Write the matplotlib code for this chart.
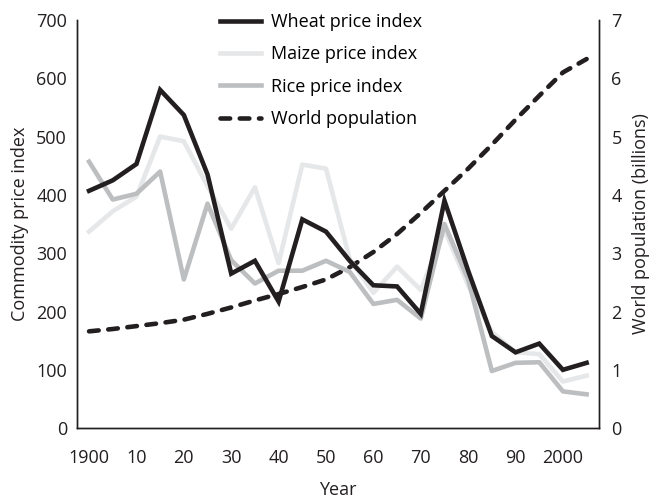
import matplotlib.pyplot as plt

plt.rcParams['font.family'] = ['Open Sans', 'DejaVu Sans']

years = list(range(1900, 2006, 5))
wheat = [407, 425, 453, 580, 537, 435, 265, 287, 217, 358, 337, 287,
         245, 243, 196, 390, 270, 158, 130, 145, 100, 112]
maize = [337, 372, 397, 500, 492, 415, 342, 413, 283, 452, 445, 290,
         232, 277, 237, 340, 245, 165, 130, 127, 80, 90]
rice = [457, 392, 402, 440, 255, 385, 288, 248, 270, 270, 287, 268,
        213, 220, 188, 350, 255, 98, 112, 113, 63, 58]
population = [1.66, 1.70, 1.75, 1.80, 1.86, 1.96, 2.07, 2.19, 2.30, 2.42,
              2.55, 2.76, 3.02, 3.33, 3.69, 4.07, 4.45, 4.86, 5.29, 5.70,
              6.10, 6.33]

x_ticks = [1900, 1910, 1920, 1930, 1940, 1950, 1960, 1970, 1980, 1990, 2000]
x_labels = ["1900", "10", "20", "30", "40", "50", "60", "70", "80", "90", "2000"]

dark = "#231f20"

fig = plt.figure(figsize=(6.56, 4.99), dpi=100)
ax = fig.add_axes([0.117, 0.142, 0.796, 0.818])
ax2 = ax.twinx()

# price indices on the left axis, population on the right
l_wheat, = ax.plot(years, wheat, color=dark, lw=3.3, zorder=4,
                   solid_joinstyle="miter")
l_maize, = ax.plot(years, maize, color="#e6e7e8", lw=3.3, zorder=2)
l_rice, = ax.plot(years, rice, color="#bcbec0", lw=3.3, zorder=3)
l_pop, = ax2.plot(years, population, color=dark, lw=3.3,
                  dashes=(2.1, 2.1), dash_capstyle="round")

ax.set_xlim(1897.4, 2007.6)
ax.set_ylim(0, 700)
ax2.set_ylim(0, 7)

ax.set_xticks(x_ticks)
ax.set_xticklabels(x_labels)
ax.set_yticks(range(0, 701, 100))
ax2.set_yticks(range(0, 8))

for a in (ax, ax2):
    a.spines["top"].set_visible(False)
    for s in a.spines.values():
        s.set_linewidth(1.0)
        s.set_color(dark)
    a.tick_params(length=0, labelsize=13, colors="#231f20")

ax.tick_params(axis="y", pad=7)
ax.tick_params(axis="x", pad=15)
ax2.tick_params(axis="y", pad=9)

ax.set_xlabel("Year", fontsize=13, labelpad=10, color=dark)
ax.set_ylabel("Commodity price index", fontsize=13, labelpad=5, color=dark)
ax2.set_ylabel("World population (billions)", fontsize=13, labelpad=7,
               color=dark)

ax2.legend([l_wheat, l_maize, l_rice, l_pop],
           ["Wheat price index", "Maize price index", "Rice price index",
            "World population"],
           loc="upper left", bbox_to_anchor=(0.26, 1.035), frameon=False,
           fontsize=13, handlelength=2.3, labelspacing=0.8,
           handletextpad=0.55, borderaxespad=0)

ax2.set_zorder(ax.get_zorder() - 1)
ax.patch.set_visible(False)

fig.savefig("out.png", dpi=100)
